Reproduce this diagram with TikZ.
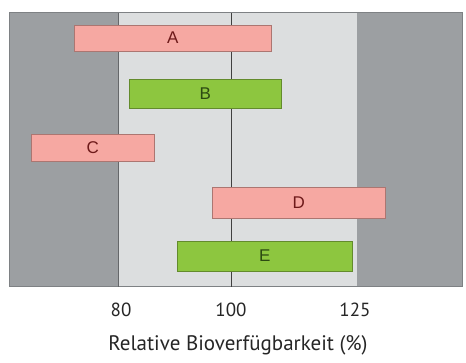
\documentclass[tikz,border=0pt]{standalone}
\usepackage{fontspec}
\setmainfont{PT Sans}
\newfontfamily\barfont{Liberation Sans}
\begin{document}
\begin{tikzpicture}[x=1pt,y=-1pt,
  bar/.style={draw=#1!70!black, line width=0.6pt, minimum height=27pt, inner sep=0pt, anchor=west, font=\barfont\fontsize{17}{17}\selectfont},
  pinkbar/.style={bar=pinkc, fill=pinkc, text=redtxt},
  greenbar/.style={bar=greenc, fill=greenc, text=greentxt},
  tick/.style={font=\fontsize{19}{19}\selectfont, text=black!85},
]
\definecolor{darkg}{HTML}{9C9FA2}
\definecolor{lightg}{HTML}{DCDEDF}
\definecolor{pinkc}{HTML}{F6A8A2}
\definecolor{greenc}{HTML}{8DC63F}
\definecolor{redtxt}{HTML}{6E1A1A}
\definecolor{greentxt}{HTML}{2C4A12}
\definecolor{framec}{HTML}{7E8184}
\useasboundingbox (0,0) rectangle (466,363);
\fill[white] (0,0) rectangle (466,363);
% background zones
\fill[darkg] (9,13) rectangle (118,287);
\fill[lightg] (118,13) rectangle (357,287);
\fill[darkg] (357,13) rectangle (462,287);
\draw[framec, line width=1pt] (9,13) rectangle (462,287);
\draw[framec!80!black, line width=0.8pt] (118,13) -- (118,287);
\draw[black!75, line width=1pt] (231,13) -- (231,287);
% bars
\node[pinkbar, minimum width=197pt, minimum height=26pt] (A) at (74,38) {A};
\node[greenbar, minimum width=152pt, minimum height=29pt] (B) at (129,93.5) {B};
\node[pinkbar, minimum width=123pt, minimum height=27pt] (C) at (31,147.5) {C};
\node[pinkbar, minimum width=173pt, minimum height=31pt] (D) at (212,202.5) {D};
\node[greenbar, minimum width=175pt, minimum height=30pt] (E) at (177,256) {E};
% axis labels
\node[tick] (t80) at (121,310) {80};
\node[tick] (t100) at (231,310) {100};
\node[tick] (t125) at (355,310) {125};
\node[font=\fontsize{21}{21}\selectfont, text=black!85] (title) at (238,345) {Relative Bioverfügbarkeit (\%)};
\end{tikzpicture}
\end{document}
